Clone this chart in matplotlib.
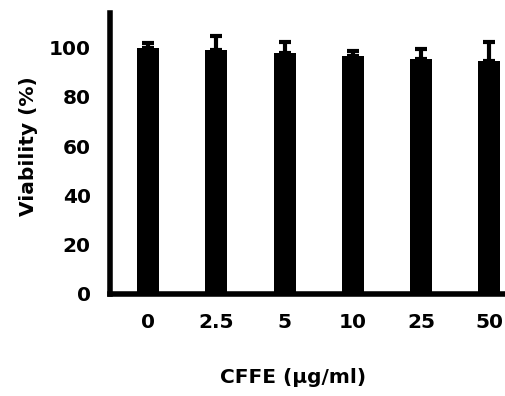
import numpy as np
import matplotlib
matplotlib.use('Agg')
import matplotlib.pyplot as plt

# Data
doses = ['0', '2.5', '5', '10', '25', '50']
viability = [99.8, 99.2, 97.6, 96.4, 95.5, 94.7]
errors = [2.2, 5.5, 4.8, 2.0, 4.1, 7.7]

plt.rcParams['font.family'] = ['DejaVu Sans']
plt.rcParams['font.weight'] = 'bold'

fig = plt.figure(figsize=(5.05, 3.96), dpi=100)
ax = fig.add_axes([0.218, 0.258, 0.782, 0.709])

x = np.arange(len(doses))
ax.bar(x, viability, width=0.32, color='black')
ax.errorbar(x, viability, yerr=[np.zeros(len(errors)), errors], fmt='none',
            ecolor='black', elinewidth=3, capsize=4.5, capthick=3)

ax.set_xlim(-0.557, 5.23)
ax.set_ylim(0, 114)
ax.set_yticks([0, 20, 40, 60, 80, 100])
ax.set_xticks(x)
ax.set_xticklabels(doses)

ax.spines['top'].set_visible(False)
ax.spines['right'].set_visible(False)
ax.spines['left'].set_linewidth(4)
ax.spines['bottom'].set_linewidth(4)
ax.tick_params(axis='both', length=0, labelsize=14.5, pad=14)

ax.set_ylabel('Viability (%)', fontsize=14.5, fontweight='bold')
ax.yaxis.set_label_coords(-0.182, 0.527)
ax.set_xlabel('CFFE (μg/ml)', fontsize=14.5, fontweight='bold')
ax.xaxis.set_label_coords(0.463, -0.263)

fig.savefig('out.png', dpi=100)
